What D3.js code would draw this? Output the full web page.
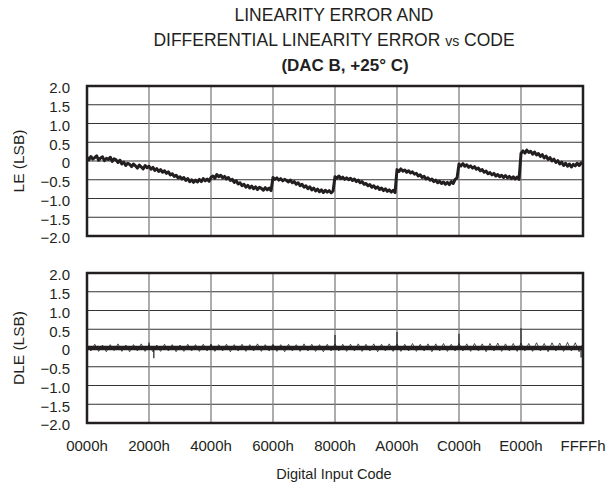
<!DOCTYPE html>
<html lang="en">
<head>
    <meta charset="UTF-8">
    <title>Linearity Error vs Code</title>
    <script src="https://d3js.org/d3.v7.min.js"></script>
    <style>
        body {
            margin: 0;
            background-color: #ffffff;
            font-family: "Liberation Sans", Arial, sans-serif;
        }
        text { fill: #231f20; }
    </style>
</head>
<body>
    <div id="chart"></div>

    <script>
        // x axis: 8 divisions of 0x2000 codes
        const xTicks = [0x0000, 0x2000, 0x4000, 0x6000, 0x8000, 0xA000, 0xC000, 0xE000, 0x10000];
        const xTickLabels = ["0000h", "2000h", "4000h", "6000h", "8000h", "A000h", "C000h", "E000h", "FFFFh"];
        const yTicks = [2.0, 1.5, 1.0, 0.5, 0, -0.5, -1.0, -1.5, -2.0];
        const yTickLabels = ["2.0", "1.5", "1.0", "0.5", "0", "\u22120.5", "\u22121.0", "\u22121.5", "\u22122.0"];

        const leStep = 256;
        const leValues = [
            0.10, 0.03, 0.12, 0.05, 0.09, 0.14, 0.02, 0.08, 0.11, 0.01, 0.07, 0.04, 0.10, -0.01, 0.06, 0.03,
            -0.04, 0.02, -0.08, -0.03, -0.12, -0.06, -0.09, -0.15, -0.08, -0.13, -0.19, -0.11, -0.16, -0.21, -0.12, -0.18,
            -0.14, -0.22, -0.17, -0.25, -0.20, -0.28, -0.23, -0.30, -0.26, -0.33, -0.29, -0.37, -0.34, -0.41, -0.38, -0.45,
            -0.42, -0.48, -0.44, -0.52, -0.47, -0.55, -0.50, -0.57, -0.51, -0.56, -0.49, -0.55, -0.47, -0.53, -0.48, -0.54,
            -0.44, -0.40, -0.46, -0.36, -0.42, -0.38, -0.45, -0.41, -0.48, -0.44, -0.52, -0.49, -0.57, -0.53, -0.61, -0.58,
            -0.66, -0.62, -0.70, -0.65, -0.72, -0.67, -0.74, -0.69, -0.76, -0.70, -0.73, -0.78, -0.71, -0.77, -0.72, -0.79,
            -0.44, -0.49, -0.45, -0.51, -0.47, -0.53, -0.49, -0.52, -0.56, -0.51, -0.58, -0.55, -0.62, -0.58, -0.66, -0.62,
            -0.70, -0.66, -0.74, -0.69, -0.77, -0.72, -0.80, -0.75, -0.82, -0.77, -0.84, -0.78, -0.83, -0.79, -0.85, -0.80,
            -0.42, -0.46, -0.40, -0.47, -0.43, -0.49, -0.45, -0.50, -0.46, -0.52, -0.48, -0.55, -0.51, -0.58, -0.55, -0.62,
            -0.60, -0.66, -0.63, -0.70, -0.66, -0.73, -0.69, -0.76, -0.72, -0.79, -0.74, -0.81, -0.77, -0.83, -0.78, -0.84,
            -0.23, -0.28, -0.21, -0.27, -0.24, -0.30, -0.26, -0.32, -0.29, -0.35, -0.33, -0.40, -0.37, -0.44, -0.41, -0.48,
            -0.45, -0.51, -0.48, -0.55, -0.51, -0.58, -0.54, -0.60, -0.56, -0.62, -0.57, -0.63, -0.55, -0.60, -0.49, -0.45,
            -0.08, -0.13, -0.07, -0.14, -0.10, -0.17, -0.13, -0.19, -0.15, -0.22, -0.19, -0.26, -0.23, -0.30, -0.27, -0.34,
            -0.31, -0.37, -0.33, -0.40, -0.36, -0.42, -0.38, -0.44, -0.39, -0.45, -0.41, -0.47, -0.42, -0.48, -0.43, -0.49,
            0.20, 0.27, 0.21, 0.29, 0.23, 0.26, 0.18, 0.24, 0.16, 0.20, 0.12, 0.17, 0.08, 0.13, 0.04, 0.09,
            0.00, 0.05, -0.04, 0.01, -0.08, -0.03, -0.12, -0.06, -0.14, -0.08, -0.16, -0.09, -0.13, -0.06, -0.12, -0.05,
            -0.09
        ];

        // DLE sampled every 512 codes
        const dleStep = 512;
        const dleValues = [
            0.09, -0.08, 0.10, -0.09, 0.08, -0.10, 0.09, -0.07, 0.11, -0.09, 0.08, -0.10, 0.09, -0.08, 0.11, -0.09,
            0.09, -0.10, 0.08, -0.09, 0.10, -0.08, 0.09, -0.10, 0.08, -0.09, 0.10, -0.08, 0.09, -0.09, 0.10, -0.08,
            0.10, -0.09, 0.09, -0.08, 0.10, -0.10, 0.09, -0.08, 0.10, -0.09, 0.09, -0.08, 0.11, -0.09, 0.09, -0.08,
            0.10, -0.09, 0.09, -0.10, 0.10, -0.08, 0.09, -0.09, 0.11, -0.08, 0.10, -0.09, 0.09, -0.10, 0.10, -0.08,
            0.11, -0.08, 0.10, -0.09, 0.10, -0.08, 0.11, -0.09, 0.10, -0.08, 0.11, -0.10, 0.10, -0.08, 0.11, -0.09,
            0.11, -0.09, 0.10, -0.08, 0.12, -0.09, 0.10, -0.08, 0.11, -0.10, 0.11, -0.08, 0.12, -0.09, 0.10, -0.08,
            0.12, -0.08, 0.11, -0.09, 0.12, -0.08, 0.11, -0.10, 0.12, -0.08, 0.13, -0.09, 0.11, -0.08, 0.12, -0.09,
            0.13, -0.08, 0.12, -0.09, 0.14, -0.08, 0.12, -0.10, 0.14, -0.08, 0.13, -0.09, 0.15, -0.08, 0.14, -0.10,
            0.12
        ];
        // single-code DLE excursions
        const dleSpikeCodes = [0x2000, 0x2280, 0x4000, 0x6000, 0x8000, 0xA000, 0xC000, 0xE000, 0xFF00];
        const dleSpikeValues = [0.15, -0.27, 0.10, 0.08, 0.35, 0.43, 0.38, 0.53, -0.25];

        const width = 610;
        const height = 484;
        const left = 87, right = 583;
        const panels = [
            {top: 86, bottom: 236, title: "LE (LSB)"},
            {top: 273, bottom: 423, title: "DLE (LSB)"}
        ];
        const ink = "#231f20";

        const svg = d3.select("#chart")
            .append("svg")
            .attr("width", width)
            .attr("height", height);

        const x = d3.scaleLinear().domain([0, 0x10000]).range([left, right]);

        // title
        const title = svg.append("g").attr("text-anchor", "middle");
        title.append("text").attr("x", 334).attr("y", 21)
            .attr("font-size", 17.5).text("LINEARITY ERROR AND");
        const t2 = title.append("text").attr("x", 334).attr("y", 46).attr("font-size", 17.5);
        t2.append("tspan").text("DIFFERENTIAL LINEARITY ERROR ");
        t2.append("tspan").attr("font-size", 14).text("vs");
        t2.append("tspan").text(" CODE");
        title.append("text").attr("x", 345).attr("y", 71)
            .attr("font-size", 17).attr("font-weight", "bold").text("(DAC B, +25\u00b0 C)");

        const line = d3.line().x(d => x(d[0]));

        panels.forEach((p, i) => {
            const y = d3.scaleLinear().domain([-2, 2]).range([p.bottom, p.top]);
            const g = svg.append("g");

            // horizontal grid
            g.selectAll(".hgrid")
                .data(yTicks)
                .join("line")
                .attr("x1", left).attr("x2", right)
                .attr("y1", d => y(d)).attr("y2", d => y(d))
                .attr("stroke", "#333").attr("stroke-width", 1);

            // vertical grid
            g.selectAll(".vgrid")
                .data(xTicks)
                .join("line")
                .attr("x1", d => x(d)).attr("x2", d => x(d))
                .attr("y1", p.top).attr("y2", p.bottom)
                .attr("stroke", "#808080").attr("stroke-width", 1.3);

            // y tick labels
            g.selectAll(".ylab")
                .data(yTicks)
                .join("text")
                .attr("x", 70)
                .attr("y", d => y(d) + 2)
                .attr("dy", "0.36em")
                .attr("text-anchor", "end")
                .attr("font-size", 15)
                .text((d, j) => yTickLabels[j]);

            // axis title
            g.append("text")
                .attr("transform", `translate(24,${(p.top + p.bottom) / 2}) rotate(-90)`)
                .attr("text-anchor", "middle")
                .attr("font-size", 15.5)
                .text(p.title);

            if (i === 0) {
                g.append("path")
                    .datum(leValues.map((v, k) => [k * leStep, v]))
                    .attr("d", line.y(d => y(d[1])))
                    .attr("fill", "none")
                    .attr("stroke", ink)
                    .attr("stroke-width", 3)
                    .attr("stroke-linejoin", "round");
            } else {
                g.append("line")
                    .attr("x1", left).attr("x2", right)
                    .attr("y1", y(0)).attr("y2", y(0))
                    .attr("stroke", ink).attr("stroke-width", 4.5);
                g.append("path")
                    .datum(dleValues.map((v, k) => [k * dleStep, v]))
                    .attr("d", line.y(d => y(d[1])))
                    .attr("fill", "none")
                    .attr("stroke", ink)
                    .attr("stroke-width", 0.8);
                g.selectAll(".spike")
                    .data(dleSpikeCodes)
                    .join("line")
                    .attr("x1", d => x(d)).attr("x2", d => x(d))
                    .attr("y1", y(0))
                    .attr("y2", (d, j) => y(dleSpikeValues[j]))
                    .attr("stroke", ink).attr("stroke-width", 1.2);
            }

            // frame
            g.append("rect")
                .attr("x", left).attr("y", p.top)
                .attr("width", right - left).attr("height", p.bottom - p.top)
                .attr("fill", "none")
                .attr("stroke", ink).attr("stroke-width", 2.5);
        });

        // x tick labels
        svg.selectAll(".xlab")
            .data(xTicks)
            .join("text")
            .attr("x", d => x(d))
            .attr("y", 451)
            .attr("text-anchor", "middle")
            .attr("font-size", 15)
            .text((d, j) => xTickLabels[j]);

        svg.append("text")
            .attr("x", 334).attr("y", 479)
            .attr("text-anchor", "middle")
            .attr("font-size", 14.5)
            .text("Digital Input Code");
    </script>
</body>
</html>
